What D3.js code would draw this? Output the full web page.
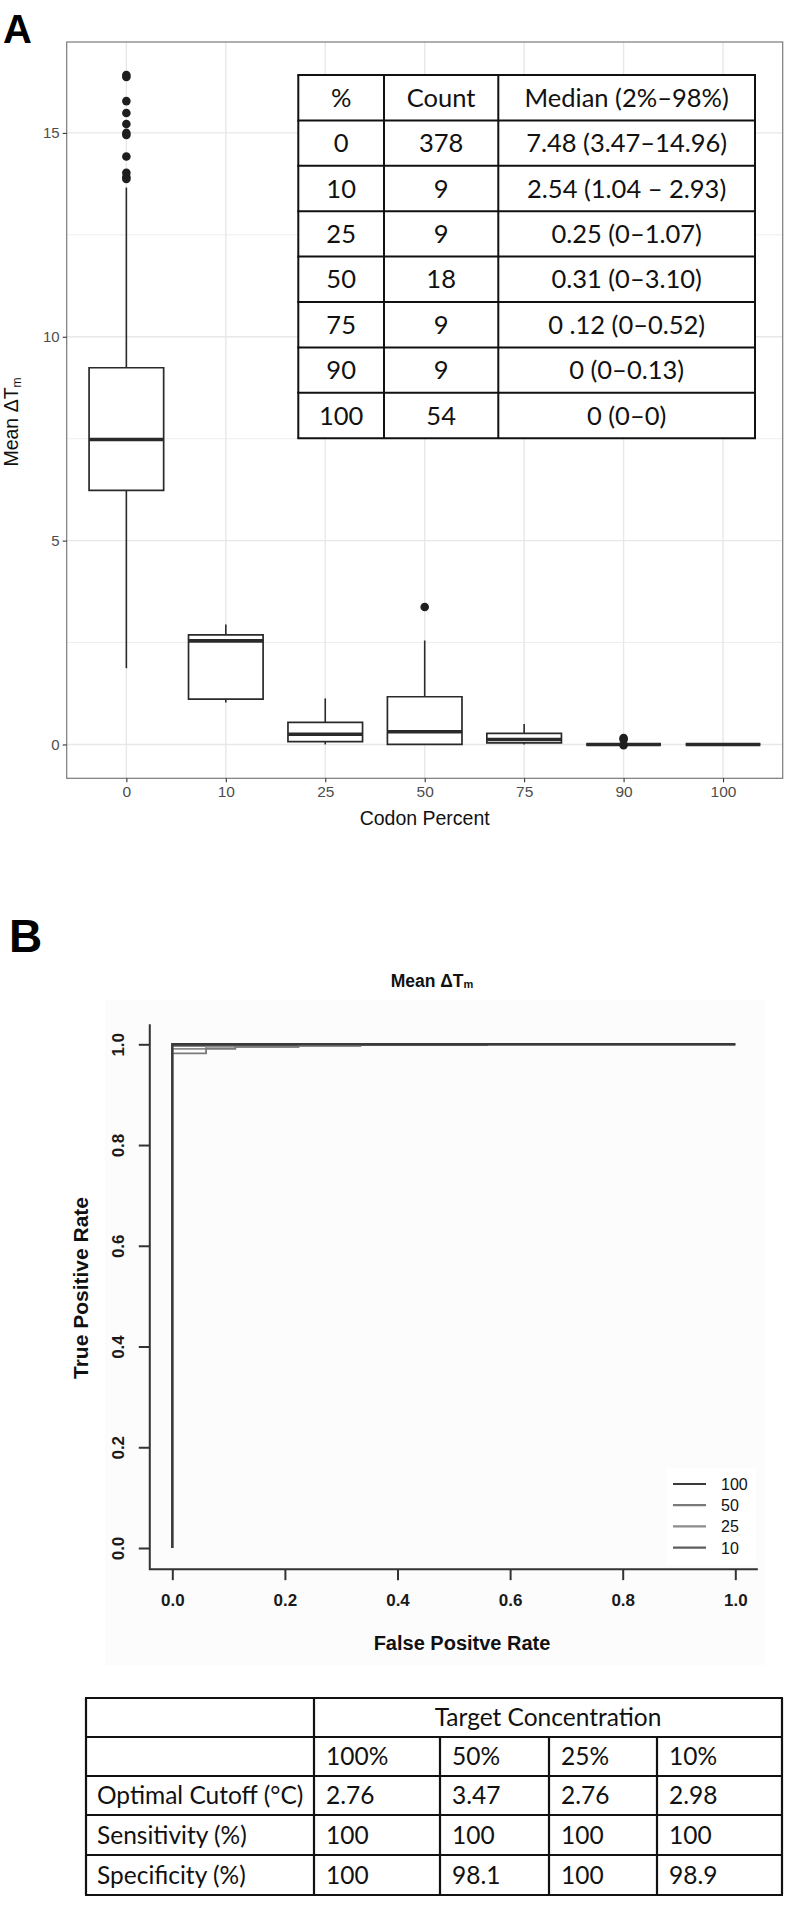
<!DOCTYPE html>
<html><head><meta charset="utf-8">
<script src="https://cdn.jsdelivr.net/npm/d3@7"></script>
<style>body{margin:0;background:#fff}</style>
</head><body><svg id="c" width="788" height="1909"></svg>
<script>
// ---------- Panel A data ----------
const codonPercent = ["0", "10", "25", "50", "75", "90", "100"];
const whiskerLow  = [1.87, 1.03, 0.00, 0.00, 0.00, 0.00, 0.00];
const q1          = [6.23, 1.11, 0.07, 0.00, 0.04, 0.00, 0.00];
const medians     = [7.48, 2.54, 0.25, 0.31, 0.12, 0.00, 0.00];
const q3          = [9.24, 2.69, 0.54, 1.17, 0.27, 0.00, 0.00];
const whiskerHigh = [13.66, 2.94, 1.13, 2.55, 0.50, 0.00, 0.00];
const outliers = [
  [16.42, 16.37, 15.78, 15.49, 15.22, 15.00, 14.95, 14.42, 14.02, 13.92, 13.87],
  [], [], [3.37], [], [0.16, 0.12, -0.02], []
];
const yTicksA = [0, 5, 10, 15];
const yMinorA = [2.5, 7.5, 12.5];

// inset table A
const tableHeader = ["%", "Count", "Median (2%\u201398%)"];
const tablePct = ["0", "10", "25", "50", "75", "90", "100"];
const tableCount = ["378", "9", "9", "18", "9", "9", "54"];
const tableMedian = ["7.48 (3.47\u201314.96)", "2.54 (1.04 \u2013 2.93)", "0.25 (0\u20131.07)",
  "0.31 (0\u20133.10)", "0 .12 (0\u20130.52)", "0 (0\u20130.13)", "0 (0\u20130)"];

// ---------- Panel B data ----------
const rocSeries = ["100", "50", "25", "10"];
const rocColors = ["#3a3a3a", "#7a7a7a", "#8c8c8c", "#5e5e5e"];
const rocFPR = [
  [0, 0, 1],
  [0, 0, 0.06, 0.06, 0.112, 0.112, 0.224, 0.224, 1],
  [0, 0, 0.06, 0.06, 0.224, 0.224, 0.334, 0.334, 1],
  [0, 0, 0.334, 0.334, 0.559, 0.559, 1]
];
const rocTPR = [
  [0, 1, 1],
  [0, 0.982, 0.982, 0.991, 0.991, 0.995, 0.995, 1, 1],
  [0, 0.991, 0.991, 0.995, 0.995, 0.997, 0.997, 1, 1],
  [0, 0.997, 0.997, 0.9985, 0.9985, 1, 1]
];
const rocTicks = [0, 0.2, 0.4, 0.6, 0.8, 1.0];

// table B
const concentrations = ["100%", "50%", "25%", "10%"];
const optimalCutoff = ["2.76", "3.47", "2.76", "2.98"];
const sensitivity = ["100", "100", "100", "100"];
const specificity = ["100", "98.1", "100", "98.9"];
const rowLabels = ["Optimal Cutoff (\u00B0C)", "Sensitivity (%)", "Specificity (%)"];

// ---------- Drawing ----------
const svg = d3.select("#c");
svg.append("rect").attr("width", 788).attr("height", 1909).attr("fill", "#fff");
const sans = "'Liberation Sans', Arial, Helvetica, sans-serif";
const cal = "Lato, 'Open Sans', sans-serif";

// ===== Panel A =====
const A = {left: 66.7, right: 782.7, top: 42, bottom: 778.3};
const xA = d3.scalePoint().domain(codonPercent).range([A.left, A.right]).padding(0.6);
const yA = d3.scaleLinear().domain([-0.83, 17.23]).range([A.bottom, A.top]);
const bw = xA.step() * 0.75;

const gA = svg.append("g");
gA.selectAll("line.minor").data(yMinorA).join("line")
  .attr("x1", A.left).attr("x2", A.right).attr("y1", d => yA(d)).attr("y2", d => yA(d))
  .attr("stroke", "#eeeeee").attr("stroke-width", 1);
gA.selectAll("line.major").data(yTicksA).join("line")
  .attr("x1", A.left).attr("x2", A.right).attr("y1", d => yA(d)).attr("y2", d => yA(d))
  .attr("stroke", "#e8e8e8").attr("stroke-width", 1.4);
gA.selectAll("line.vx").data(codonPercent).join("line")
  .attr("x1", d => xA(d)).attr("x2", d => xA(d)).attr("y1", A.top).attr("y2", A.bottom)
  .attr("stroke", "#e8e8e8").attr("stroke-width", 1.4);

// boxes
const boxG = svg.append("g").attr("stroke", "#2a2a2a").attr("fill", "none");
codonPercent.forEach((c, i) => {
  const cx = xA(c);
  const g = boxG.append("g");
  if (whiskerHigh[i] > q3[i])
    g.append("line").attr("x1", cx).attr("x2", cx).attr("y1", yA(q3[i])).attr("y2", yA(whiskerHigh[i])).attr("stroke-width", 1.6);
  if (whiskerLow[i] < q1[i])
    g.append("line").attr("x1", cx).attr("x2", cx).attr("y1", yA(q1[i])).attr("y2", yA(whiskerLow[i])).attr("stroke-width", 1.6);
  const x0 = cx - bw / 2, x1 = cx + bw / 2;
  g.append("path").attr("d", `M${x0},${yA(q3[i])}H${x1}V${yA(q1[i])}H${x0}Z`)
    .attr("fill", "#fff").attr("stroke-width", 1.7);
  g.append("line").attr("x1", x0).attr("x2", x1).attr("y1", yA(medians[i])).attr("y2", yA(medians[i])).attr("stroke-width", 3.6);
  g.selectAll("circle").data(outliers[i]).join("circle")
    .attr("cx", cx).attr("cy", d => yA(d)).attr("r", 4.3).attr("fill", "#1e1e1e").attr("stroke", "none");
});

// panel border
svg.append("rect").attr("x", A.left).attr("y", A.top).attr("width", A.right - A.left).attr("height", A.bottom - A.top)
  .attr("fill", "none").attr("stroke", "#7a7a7a").attr("stroke-width", 1.2);

// axes A
const axLA = svg.append("g").attr("transform", `translate(${A.left},0)`)
  .call(d3.axisLeft(yA).tickValues(yTicksA).tickSize(4).tickPadding(3).tickFormat(d3.format("d")));
const axBA = svg.append("g").attr("transform", `translate(0,${A.bottom})`)
  .call(d3.axisBottom(xA).tickSize(4).tickPadding(4));
[axLA, axBA].forEach(ax => {
  ax.select(".domain").remove();
  ax.selectAll(".tick line").attr("stroke", "#333").attr("stroke-width", 1.1);
  ax.selectAll(".tick text").attr("fill", "#4d4d4d").style("font-family", sans).style("font-size", "15px");
});
axBA.selectAll(".tick text").style("font-size", "15.5px");

// axis titles A
const yt = svg.append("text").attr("transform", "translate(18,422) rotate(-90)")
  .attr("text-anchor", "middle").style("font-family", sans).style("font-size", "19.5px").attr("fill", "#111");
yt.append("tspan").text("Mean \u0394T");
yt.append("tspan").text("m").style("font-size", "12px").attr("dy", 3);
svg.append("text").attr("x", (A.left + A.right) / 2).attr("y", 825).attr("text-anchor", "middle")
  .style("font-family", sans).style("font-size", "19.5px").attr("fill", "#111").text("Codon Percent");

// panel label A
svg.append("text").attr("x", 3).attr("y", 43).style("font-family", sans).style("font-weight", "bold")
  .style("font-size", "40px").attr("fill", "#000").text("A");

// inset table A
const tAx = [298.3, 384, 498.3, 755];
const tAy = d3.range(9).map(i => 75 + i * 45.4);
const tA = svg.append("g");
tA.append("rect").attr("x", tAx[0]).attr("y", tAy[0]).attr("width", tAx[3] - tAx[0]).attr("height", tAy[8] - tAy[0]).attr("fill", "#fff");
tA.selectAll("line.h").data(tAy).join("line").attr("x1", tAx[0] - 1).attr("x2", tAx[3] + 1).attr("y1", d => d).attr("y2", d => d)
  .attr("stroke", "#111").attr("stroke-width", 2);
tA.selectAll("line.v").data(tAx).join("line").attr("y1", tAy[0]).attr("y2", tAy[8]).attr("x1", d => d).attr("x2", d => d)
  .attr("stroke", "#111").attr("stroke-width", 2);
const tARows = [tableHeader].concat(tablePct.map((p, i) => [p, tableCount[i], tableMedian[i]]));
tARows.forEach((row, r) => {
  row.forEach((txt, c) => {
    tA.append("text").attr("x", (tAx[c] + tAx[c + 1]) / 2).attr("y", (tAy[r] + tAy[r + 1]) / 2 + 9)
      .attr("text-anchor", "middle").style("font-family", cal).style("font-size", "25.5px").attr("fill", "#111").text(txt);
  });
});

// ===== Panel B =====
svg.append("text").attr("x", 9).attr("y", 952).style("font-family", sans).style("font-weight", "bold")
  .style("font-size", "46px").attr("fill", "#000").text("B");

svg.append("rect").attr("x", 105).attr("y", 1000).attr("width", 660).attr("height", 665).attr("fill", "#fcfcfc");

const xB = d3.scaleLinear().domain([0, 1]).range([172.3, 735.3]);
const yB = d3.scaleLinear().domain([0, 1]).range([1548, 1044.3]);

// legend background
svg.append("rect").attr("x", 666).attr("y", 1468).attr("width", 90).attr("height", 97).attr("fill", "#fff");

// title
const tt = svg.append("text").attr("x", 432).attr("y", 987).attr("text-anchor", "middle")
  .style("font-family", sans).style("font-weight", "bold").style("font-size", "17.5px").attr("fill", "#111");
tt.append("tspan").text("Mean \u0394T");
tt.append("tspan").text("m").style("font-size", "11px").attr("dy", 1);

// axes frame (L shape)
svg.append("path").attr("d", `M${xB(-0.04)},${yB(1.04)}V${yB(-0.042)}H${xB(1.04)}`)
  .attr("fill", "none").attr("stroke", "#333").attr("stroke-width", 2);
const axLB = svg.append("g").attr("transform", `translate(${xB(-0.04)},0)`)
  .call(d3.axisLeft(yB).tickValues(rocTicks).tickSize(11).tickPadding(0).tickFormat(d3.format(".1f")));
const axBB = svg.append("g").attr("transform", `translate(0,${yB(-0.042)})`)
  .call(d3.axisBottom(xB).tickValues(rocTicks).tickSize(11).tickPadding(14).tickFormat(d3.format(".1f")));
[axLB, axBB].forEach(ax => {
  ax.select(".domain").remove();
  ax.selectAll(".tick line").attr("stroke", "#333").attr("stroke-width", 2);
  ax.selectAll(".tick text").attr("fill", "#1a1a1a").style("font-family", sans).style("font-weight", "bold").style("font-size", "17px");
});
axLB.selectAll(".tick text").attr("x", null).attr("dy", null)
  .attr("transform", "translate(-31,0) rotate(-90)").attr("text-anchor", "middle").attr("dominant-baseline", "central");

svg.append("text").attr("x", 462).attr("y", 1650).attr("text-anchor", "middle")
  .style("font-family", sans).style("font-weight", "bold").style("font-size", "20px").attr("fill", "#111").text("False Positve Rate");
svg.append("text").attr("transform", "translate(80,1288) rotate(-90)").attr("text-anchor", "middle").attr("dominant-baseline", "central")
  .style("font-family", sans).style("font-weight", "bold").style("font-size", "21px").attr("fill", "#111").text("True Positive Rate");

// ROC curves (draw 10,25,50 first, 100 on top)
const lineB = d3.line().x(d => xB(d[0])).y(d => yB(d[1]));
[3, 2, 1, 0].forEach(i => {
  const pts = rocFPR[i].map((f, k) => [f, rocTPR[i][k]]);
  svg.append("path").attr("d", lineB(pts)).attr("fill", "none")
    .attr("stroke", rocColors[i]).attr("stroke-width", i === 0 ? 2.4 : 1.8);
});

// legend
const lg = svg.append("g");
rocSeries.forEach((s, i) => {
  const y = 1484 + i * 21.2;
  lg.append("line").attr("x1", 673).attr("x2", 706).attr("y1", y).attr("y2", y)
    .attr("stroke", rocColors[i]).attr("stroke-width", 2.2);
  lg.append("text").attr("x", 721).attr("y", y + 6).style("font-family", sans).style("font-size", "16px")
    .attr("fill", "#111").text(s);
});

// ===== Table B =====
const tBx = [86, 314, 440, 549, 657, 782];
const tBy = [1698, 1737, 1776, 1815, 1855, 1895];
const tB = svg.append("g");
tB.selectAll("line.h").data(tBy).join("line").attr("x1", tBx[0] - 1).attr("x2", tBx[5] + 1).attr("y1", d => d).attr("y2", d => d)
  .attr("stroke", "#111").attr("stroke-width", 2.2);
tB.selectAll("line.v").data(tBx).join("line")
  .attr("x1", d => d).attr("x2", d => d)
  .attr("y1", (d, i) => (i === 0 || i === 1 || i === 5) ? tBy[0] : tBy[1]).attr("y2", tBy[5])
  .attr("stroke", "#111").attr("stroke-width", 2.2);
const txtB = (x, y, t, anchor) => tB.append("text").attr("x", x).attr("y", y).attr("text-anchor", anchor || "start")
  .style("font-family", cal).style("font-size", "24.5px").attr("fill", "#111").text(t);
txtB((tBx[1] + tBx[5]) / 2, (tBy[0] + tBy[1]) / 2 + 8.5, "Target Concentration", "middle");
concentrations.forEach((c, i) => txtB(tBx[i + 1] + 12, (tBy[1] + tBy[2]) / 2 + 8.5, c));
[optimalCutoff, sensitivity, specificity].forEach((row, r) => {
  txtB(tBx[0] + 11, (tBy[r + 2] + tBy[r + 3]) / 2 + 8.5, rowLabels[r]);
  row.forEach((v, i) => txtB(tBx[i + 1] + 12, (tBy[r + 2] + tBy[r + 3]) / 2 + 8.5, v));
});
</script></body></html>
